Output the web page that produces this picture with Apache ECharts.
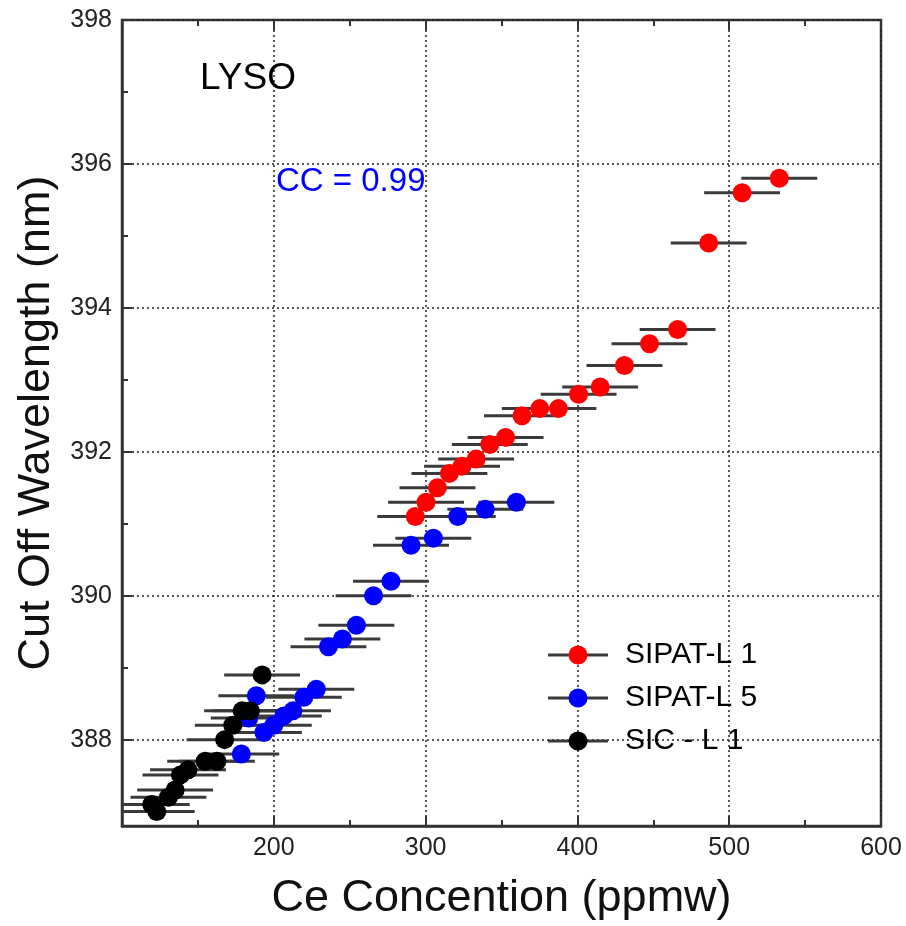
<!DOCTYPE html>
<html>
<head>
<meta charset="utf-8">
<script src="https://cdn.jsdelivr.net/npm/echarts@6/dist/echarts.min.js"></script>
<style>html,body{margin:0;padding:0;background:#fff}#c{width:906px;height:926px}</style>
</head>
<body>
<div id="c"></div>
<script>
// ---- data (Ce concentration ppmw, cut-off wavelength nm, x error ppmw) ----
var red_x = [293.2, 300.3, 307.8, 315.7, 324.0, 333.3, 342.3, 352.7, 363.5, 375.2, 387.5, 400.8, 415.0, 431.0, 447.5, 466.0, 486.5, 508.5, 533.0];
var red_y = [391.10, 391.30, 391.50, 391.70, 391.80, 391.90, 392.10, 392.20, 392.50, 392.60, 392.60, 392.80, 392.90, 393.20, 393.50, 393.70, 394.90, 395.60, 395.80];
var red_err = [25, 25, 25, 25, 25, 25, 25, 25, 25, 25, 25, 25, 25, 25, 25, 25, 25, 25, 25];

var blue_x = [178.6, 183.5, 188.5, 193.5, 200.0, 206.6, 212.6, 219.8, 228.0, 236.0, 245.2, 254.4, 265.7, 277.2, 290.4, 305.1, 321.2, 339.3, 359.8];
var blue_y = [387.80, 388.30, 388.61, 388.10, 388.20, 388.33, 388.40, 388.59, 388.70, 389.29, 389.40, 389.59, 390.00, 390.20, 390.70, 390.80, 391.10, 391.20, 391.30];
var blue_err = [25, 25, 25, 25, 25, 25, 25, 25, 25, 25, 25, 25, 25, 25, 25, 25, 25, 25, 25];

var black_x = [119.6, 122.9, 130.6, 135.0, 138.5, 143.5, 154.8, 162.5, 167.6, 173.0, 179.1, 184.6, 192.3];
var black_y = [387.10, 387.00, 387.20, 387.30, 387.51, 387.58, 387.70, 387.70, 388.00, 388.20, 388.40, 388.40, 388.90];
var black_err = [25, 25, 25, 25, 25, 25, 25, 25, 25, 25, 25, 25, 25];

var series_names = ['SIPAT-L 1', 'SIPAT-L 5', 'SIC - L 1'];
var series_colors = ['#ff0000', '#0000ff', '#000000'];
var y_major_ticks = [388, 390, 392, 394, 396, 398];
var y_minor_ticks = [387, 389, 391, 393, 395, 397];
var annotation_title = 'LYSO';
var annotation_cc = 'CC = 0.99';

// ---- build ----
function pts(xs, ys, es) {
  return xs.map(function (x, i) { return es ? [x, ys[i], es[i]] : [x, ys[i]]; });
}
var FONT = '"Liberation Sans", Arial, Helvetica, sans-serif';
var errColor = '#3a3a3a';

function errSeries(xs, ys, es) {
  return {
    type: 'custom',
    xAxisIndex: 0, yAxisIndex: 0,
    z: 2,
    clip: true,
    silent: true,
    data: pts(xs, ys, es),
    renderItem: function (params, api) {
      var x = api.value(0), y = api.value(1), e = api.value(2);
      var p1 = api.coord([x - e, y]);
      var p2 = api.coord([x + e, y]);
      var cs = params.coordSys;
      var left = cs.x, right = cs.x + cs.width;
      return {
        type: 'line',
        shape: { x1: Math.max(p1[0], left), y1: p1[1], x2: Math.min(p2[0], right), y2: p2[1] },
        style: { stroke: errColor, lineWidth: 3 }
      };
    }
  };
}
function dotSeries(name, xs, ys, color) {
  return {
    type: 'scatter', name: name,
    xAxisIndex: 0, yAxisIndex: 0,
    z: 3,
    symbol: 'circle', symbolSize: 19,
    itemStyle: { color: color, opacity: 1 },
    data: pts(xs, ys)
  };
}

var chart = echarts.init(document.getElementById('c'), null, { renderer: 'canvas' });

var legendRowsY = [655, 698, 741];
var graphics = [
  { type: 'text', left: 200, top: 60, style: { text: annotation_title, fill: '#000', font: '37px ' + FONT } },
  { type: 'text', left: 276, top: 165, style: { text: annotation_cc, fill: '#0000ff', font: '33px ' + FONT } }
];
legendRowsY.forEach(function (yy, i) {
  graphics.push({ type: 'line', shape: { x1: 548, y1: yy, x2: 608, y2: yy }, style: { stroke: errColor, lineWidth: 3 }, z: 10 });
  graphics.push({ type: 'circle', shape: { cx: 578, cy: yy, r: 9.5 }, style: { fill: series_colors[i] }, z: 11 });
  graphics.push({ type: 'text', x: 625, y: yy, style: { text: series_names[i], fill: '#000', font: '30px ' + FONT, verticalAlign: 'middle', align: 'left' }, z: 11 });
});

var axisLineStyle = { color: '#333', width: 2.5 };
var gridDotted = { show: true, lineStyle: { color: '#222', width: 1.5, type: [2, 3] } };

chart.setOption({
  animation: false,
  backgroundColor: '#fff',
  textStyle: { fontFamily: FONT },
  grid: { left: 122, right: 25, top: 20, bottom: 98, show: true, borderColor: '#333', borderWidth: 2.5, backgroundColor: 'transparent' },
  xAxis: [
    {
      type: 'value', position: 'bottom', min: 100, max: 600, interval: 100,
      name: 'Ce Concention (ppmw)', nameLocation: 'middle', nameGap: 50,
      nameTextStyle: { fontSize: 45, color: '#111', fontFamily: FONT },
      axisLine: { show: true, lineStyle: axisLineStyle },
      axisTick: { show: true, inside: true, length: 10, lineStyle: { color: '#333', width: 2 } },
      minorTick: { show: true, splitNumber: 2, length: 6, lineStyle: { color: '#333', width: 2 } },
      axisLabel: { fontSize: 25, color: '#222', margin: 10, fontFamily: FONT,
        formatter: function (v) { return v === 100 ? '' : String(v); } },
      splitLine: gridDotted
    },
    {
      type: 'value', position: 'top', min: 100, max: 600, interval: 100,
      axisLine: { show: false },
      axisTick: { show: true, inside: true, length: 10, lineStyle: { color: '#333', width: 2 } },
      minorTick: { show: true, splitNumber: 2, length: 6, lineStyle: { color: '#333', width: 2 } },
      axisLabel: { show: false },
      splitLine: { show: false }
    }
  ],
  yAxis: [
    {
      type: 'value', position: 'left', min: 386.8, max: 398,
      name: 'Cut Off Wavelength (nm)', nameLocation: 'middle', nameGap: 62, nameRotate: 90,
      nameTextStyle: { fontSize: 45, color: '#111', fontFamily: FONT },
      axisLine: { show: true, lineStyle: axisLineStyle },
      axisTick: { show: true, inside: true, length: 10, customValues: y_major_ticks, lineStyle: { color: '#333', width: 2 } },
      axisLabel: { fontSize: 25, color: '#222', margin: 10, fontFamily: FONT, customValues: y_major_ticks },
      splitLine: gridDotted
    },
    {
      type: 'value', position: 'left', min: 386.8, max: 398,
      axisLine: { show: false },
      axisTick: { show: true, inside: true, length: 6, customValues: y_minor_ticks, lineStyle: { color: '#333', width: 2 } },
      axisLabel: { show: false, customValues: y_minor_ticks },
      splitLine: { show: false }
    }
  ],
  series: [
    errSeries(red_x, red_y, red_err),
    errSeries(blue_x, blue_y, blue_err),
    errSeries(black_x, black_y, black_err),
    dotSeries(series_names[0], red_x, red_y, series_colors[0]),
    dotSeries(series_names[1], blue_x, blue_y, series_colors[1]),
    dotSeries(series_names[2], black_x, black_y, series_colors[2])
  ],
  graphic: graphics
});
</script>
</body>
</html>
